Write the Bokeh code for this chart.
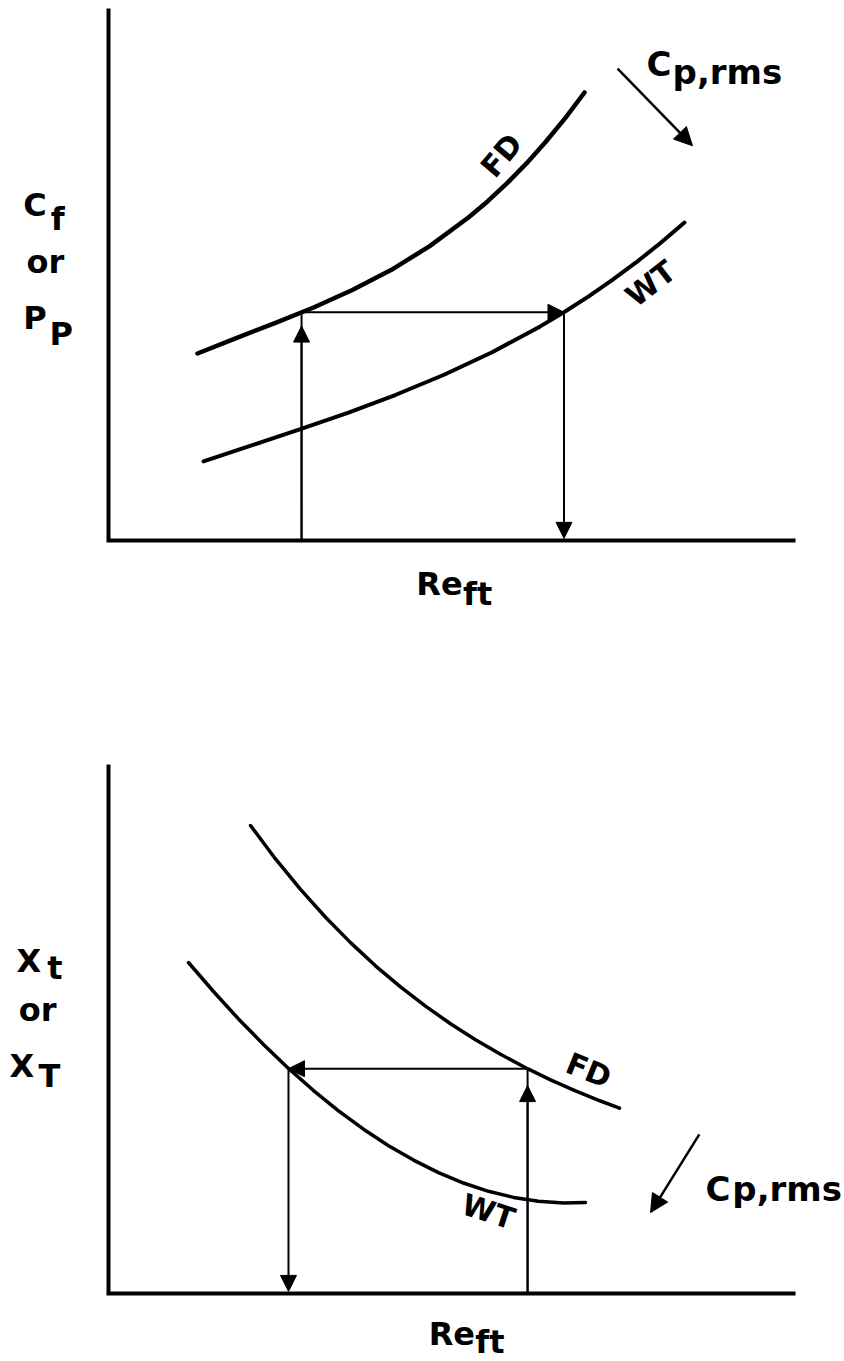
from bokeh.plotting import figure
from bokeh.layouts import column
from bokeh.models import Arrow, NormalHead, Range1d
from bokeh.core.properties import value
from bokeh.embed import file_html
from bokeh.resources import INLINE

# ---- upper panel: skin friction / peak pressure vs Reynolds number (axes run 0..100) ----
re_fd_top = [12.95, 18.59, 24.22, 29.85, 35.49, 41.12, 46.75, 52.39, 55.21, 58.02, 60.84,
             63.65, 66.48, 69.29]
cf_fd_top = [35.15, 38.05, 40.86, 43.80, 47.07, 50.83, 55.32, 60.70, 63.78, 67.16, 70.88,
             74.96, 79.38, 84.21]
re_wt_top = [13.83, 20.83, 27.83, 34.83, 41.83, 48.84, 55.84, 62.84, 66.35, 69.84, 73.35,
             76.84, 80.35, 83.84]
cf_wt_top = [14.85, 17.86, 20.88, 24.00, 27.39, 31.15, 35.39, 40.24, 42.95, 45.85, 48.97,
             52.31, 55.92, 59.77]
# flight Re -> same value -> wind tunnel Re
re_flight_top = 28.1
level_top = 42.9
re_tunnel_top = 66.3

# ---- lower panel: transition location vs Reynolds number ----
re_fd_bot = [20.67, 24.31, 27.95, 31.59, 35.23, 38.86, 42.50, 46.14, 49.78, 53.42, 57.06,
             60.99, 64.34, 67.98, 71.62, 74.38]
xt_fd_bot = [88.47, 82.15, 76.39, 71.12, 66.33, 61.95, 57.96, 54.33, 51.00, 47.98, 45.22,
             42.50, 40.40, 38.30, 36.39, 35.05]
re_wt_bot = [11.64, 15.28, 18.92, 22.56, 26.20, 29.84, 33.48, 37.12, 40.76, 44.40, 48.03,
             51.67, 55.31, 58.95, 62.59, 66.23, 69.43]
xt_wt_bot = [62.57, 57.09, 51.91, 47.07, 42.55, 38.37, 34.54, 31.06, 27.94, 25.22, 22.86,
             20.89, 19.32, 18.17, 17.43, 17.11, 17.20]
re_flight_bot = 61.0
level_bot = 42.5
re_tunnel_bot = 26.2

FONT = value("DejaVu Sans")
INK = "#000000"


def make_panel(height, y_lo, y_hi):
    p = figure(width=844, height=height, output_backend="svg", toolbar_location=None,
               x_axis_location=None, y_axis_location=None,
               x_range=Range1d(-15.72, 107.13), y_range=Range1d(y_lo, y_hi))
    p.min_border = 0
    p.min_border_left = p.min_border_right = p.min_border_top = p.min_border_bottom = 0
    p.outline_line_color = None
    p.grid.grid_line_color = None
    p.background_fill_color = "white"
    p.border_fill_color = "white"
    # plain axes without ticks
    p.line([0, 0, 100], [100, 0, 0], line_color=INK, line_width=4, line_join="miter")
    return p


def label(p, x, y, txt, size="32px", align="left", angle=0):
    p.text(x=[x], y=[y], text=[txt], text_font=FONT, text_font_style="bold",
           text_font_size=size, text_color=INK, text_align=align,
           text_baseline="alphabetic" if angle == 0 else "middle",
           angle=angle, angle_units="deg")


def arrow(p, x0, y0, x1, y1, size=16, width=2):
    p.add_layout(Arrow(end=NormalHead(size=size, fill_color=INK, line_color=INK, line_width=1),
                       x_start=x0, y_start=y0, x_end=x1, y_end=y1,
                       line_color=INK, line_width=width))


# ---------------- upper panel ----------------
top = make_panel(680, -26.32, 101.50)
top.line(re_fd_top, cf_fd_top, line_color=INK, line_width=4.5, line_cap="round", line_join="round")
top.line(re_wt_top, cf_wt_top, line_color=INK, line_width=4, line_cap="round", line_join="round")

top.line([re_flight_top, re_flight_top], [0, level_top], line_color=INK, line_width=2)
arrow(top, re_flight_top, 0, re_flight_top, level_top - 2.6)
arrow(top, re_flight_top, level_top, re_tunnel_top, level_top)
arrow(top, re_tunnel_top, level_top, re_tunnel_top, 0.4)

arrow(top, 74.1, 88.7, 85.0, 74.2, size=18, width=2.5)

label(top, -12.4, 63.0, "C")
label(top, -8.4, 60.5, "f")
label(top, -9.2, 52.3, "or", align="center")
label(top, -12.4, 41.9, "P")
label(top, -8.6, 38.9, "P")
label(top, 44.8, -8.1, "Re")
label(top, 51.6, -10.0, "ft")
label(top, 57.2, 72.4, "FD", size="30px", align="center", angle=50)
label(top, 78.9, 48.3, "WT", size="30px", align="center", angle=38)
label(top, 78.3, 89.5, "C", size="34px")
label(top, 82.1, 88.0, "p,rms", size="34px")

# ---------------- lower panel ----------------
bot = make_panel(681, -12.85, 115.88)
bot.line(re_fd_bot, xt_fd_bot, line_color=INK, line_width=3.5, line_cap="round", line_join="round")
bot.line(re_wt_bot, xt_wt_bot, line_color=INK, line_width=3.5, line_cap="round", line_join="round")

bot.line([re_flight_bot, re_flight_bot], [0, level_bot], line_color=INK, line_width=2)
arrow(bot, re_flight_bot, 0, re_flight_bot, level_bot - 3.2)
arrow(bot, re_flight_bot, level_bot, re_tunnel_bot, level_bot)
arrow(bot, re_tunnel_bot, level_bot, re_tunnel_bot, 0.4)

arrow(bot, 86.0, 30.1, 78.9, 15.3, size=18, width=2.5)

label(bot, -13.4, 62.9, "X")
label(bot, -8.9, 61.6, "t")
label(bot, -10.3, 53.5, "or", align="center")
label(bot, -14.4, 43.1, "X")
label(bot, -10.2, 41.2, "T")
label(bot, 46.6, -7.6, "Re")
label(bot, 53.4, -9.2, "ft")
label(bot, 69.9, 42.2, "FD", size="30px", align="center", angle=-22)
label(bot, 55.3, 15.5, "WT", size="30px", align="center", angle=-18)
label(bot, 86.9, 19.8, "C", size="34px")
label(bot, 90.8, 19.8, "p,rms", size="34px")

layout = column(top, bot, spacing=0)
open("out.html", "w").write(file_html(layout, INLINE))
